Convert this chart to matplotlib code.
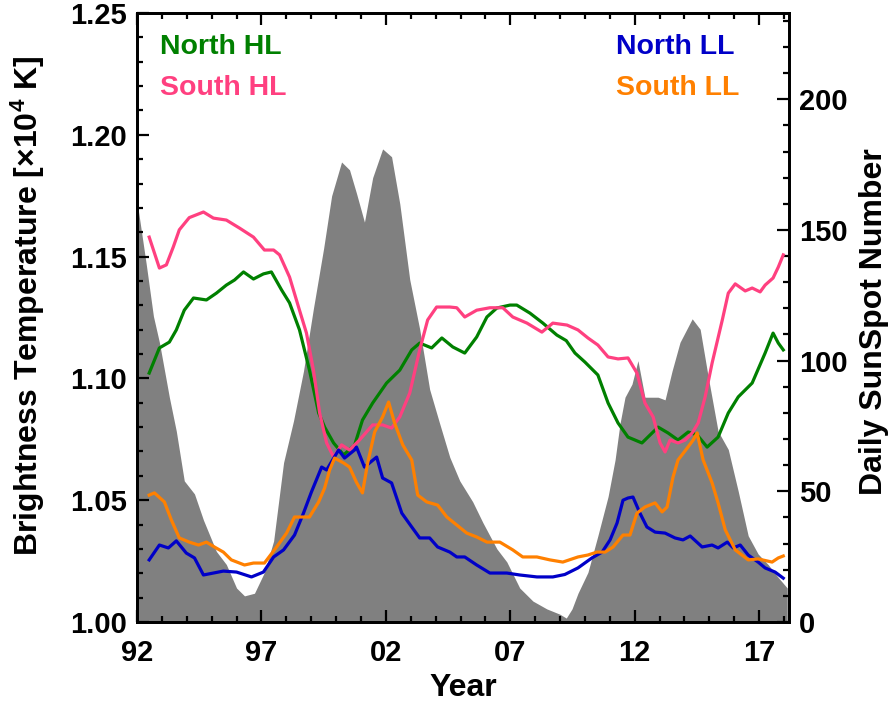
import matplotlib
matplotlib.use("Agg")
import matplotlib.pyplot as plt
from matplotlib.ticker import MultipleLocator, FixedLocator, FixedFormatter

plt.rcParams['font.family'] = ['Liberation Sans', 'DejaVu Sans']
plt.rcParams['font.weight'] = 'bold'
plt.rcParams['mathtext.fontset'] = 'custom'
plt.rcParams['mathtext.rm'] = 'Liberation Sans:bold'
plt.rcParams['mathtext.default'] = 'rm'

# ---------------- data ----------------
ssn_year = [1992.0, 1992.37, 1992.66, 1992.90, 1993.30, 1993.58, 1993.90, 1994.31, 1994.67,
            1995.19, 1995.59, 1996.00, 1996.32, 1996.72, 1997.12, 1997.49, 1997.89, 1998.29,
            1998.69, 1999.09, 1999.50, 1999.82, 2000.22, 2000.54, 2000.82, 2001.14, 2001.47,
            2001.87, 2002.23, 2002.56, 2002.96, 2003.36, 2003.76, 2004.16, 2004.57, 2004.97,
            2005.49, 2005.90, 2006.46, 2006.86, 2007.38, 2007.91, 2008.47, 2008.99, 2009.25,
            2009.48, 2009.72, 2010.12, 2010.52, 2010.93, 2011.21, 2011.41, 2011.61, 2011.89,
            2012.13, 2012.41, 2012.70, 2012.94, 2013.22, 2013.50, 2013.82, 2014.31, 2014.63,
            2014.95, 2015.35, 2015.76, 2016.16, 2016.56, 2016.96, 2017.36, 2017.77, 2018.13]
ssn_value = [161, 137, 117, 107, 86, 73, 54, 49, 39,
             27, 22, 13, 10, 11, 19, 31, 61, 77,
             96, 120, 143, 163, 176, 173, 164, 153, 170,
             181, 178, 160, 131, 112, 89, 76, 63, 54,
             46, 38, 28, 23, 13, 8, 5, 3, 1.5,
             5, 11, 19, 33, 48, 62, 76, 86, 91,
             100, 86, 86, 86, 85, 96, 107, 116, 112,
             94, 73, 66, 50, 33, 26, 22, 17, 13]

shl_year = [1992.49, 1992.90, 1993.18, 1993.46, 1993.70, 1994.10, 1994.67, 1995.07, 1995.59,
            1996.12, 1996.68, 1997.12, 1997.49, 1997.73, 1998.13, 1998.53, 1998.81, 1999.09,
            1999.34, 1999.62, 1999.90, 2000.22, 2000.54, 2000.94, 2001.47, 2001.87, 2002.23,
            2002.56, 2002.96, 2003.36, 2003.68, 2004.04, 2004.57, 2004.85, 2005.17, 2005.65,
            2006.18, 2006.70, 2007.10, 2007.67, 2008.27, 2008.71, 2009.28, 2009.72, 2010.12,
            2010.52, 2010.93, 2011.33, 2011.73, 2012.09, 2012.41, 2012.74, 2013.02, 2013.22,
            2013.42, 2013.74, 2014.03, 2014.31, 2014.55, 2014.83, 2015.11, 2015.52, 2015.76,
            2016.04, 2016.44, 2016.72, 2017.04, 2017.24, 2017.56, 2017.77, 2017.97]
shl_value = [1.1580, 1.1453, 1.1466, 1.1540, 1.1610, 1.1660, 1.1683, 1.1658, 1.1650,
             1.1617, 1.1580, 1.1527, 1.1527, 1.1507, 1.1416, 1.1280, 1.1186, 1.1034,
             1.0858, 1.0735, 1.0677, 1.0727, 1.0706, 1.0747, 1.0809, 1.0809, 1.0796,
             1.0842, 1.0940, 1.1117, 1.1240, 1.1293, 1.1293, 1.1290, 1.1252, 1.1280,
             1.1290, 1.1290, 1.1252, 1.1227, 1.1190, 1.1227, 1.1219, 1.1199, 1.1166,
             1.1137, 1.1088, 1.1080, 1.1084, 1.1022, 1.0899, 1.0842, 1.0735, 1.0698,
             1.0747, 1.0735, 1.0747, 1.0776, 1.0817, 1.0924, 1.1063, 1.1240, 1.1350,
             1.1388, 1.1359, 1.1371, 1.1355, 1.1383, 1.1412, 1.1457, 1.1507]

nhl_year = [1992.49, 1992.90, 1993.30, 1993.58, 1993.90, 1994.27, 1994.79, 1995.19, 1995.59,
            1995.92, 1996.28, 1996.68, 1997.08, 1997.40, 1997.81, 1998.13, 1998.53, 1998.93,
            1999.30, 1999.54, 1999.90, 2000.30, 2000.74, 2001.06, 2001.47, 2002.03, 2002.56,
            2003.04, 2003.36, 2003.84, 2004.25, 2004.69, 2005.17, 2005.65, 2006.06, 2006.46,
            2006.99, 2007.26, 2007.79, 2008.31, 2008.87, 2009.25, 2009.60, 2010.00, 2010.52,
            2010.93, 2011.33, 2011.73, 2012.29, 2012.70, 2012.94, 2013.34, 2013.74, 2014.15,
            2014.51, 2014.91, 2015.35, 2015.76, 2016.16, 2016.72, 2017.24, 2017.56, 2017.77,
            2017.97]
nhl_value = [1.1022, 1.1125, 1.1149, 1.1199, 1.1280, 1.1330, 1.1322, 1.1350, 1.1383,
             1.1404, 1.1437, 1.1408, 1.1429, 1.1437, 1.1363, 1.1310, 1.1199, 1.1034,
             1.0858, 1.0800, 1.0735, 1.0686, 1.0725, 1.0829, 1.0899, 1.0981, 1.1034,
             1.1117, 1.1145, 1.1125, 1.1166, 1.1129, 1.1104, 1.1170, 1.1252, 1.1289,
             1.1301, 1.1301, 1.1268, 1.1227, 1.1178, 1.1155, 1.1104, 1.1067, 1.1014,
             1.0899, 1.0817, 1.0759, 1.0735, 1.0776, 1.0800, 1.0776, 1.0747, 1.0780,
             1.0768, 1.0718, 1.0759, 1.0858, 1.0924, 1.0981, 1.1104, 1.1186, 1.1145,
             1.1117]

nll_year = [1992.49, 1992.90, 1993.26, 1993.58, 1993.98, 1994.31, 1994.67, 1995.07, 1995.47,
            1996.00, 1996.60, 1997.08, 1997.49, 1997.89, 1998.33, 1998.69, 1999.01, 1999.42,
            1999.62, 2000.10, 2000.34, 2000.74, 2000.82, 2001.14, 2001.63, 2001.87, 2002.23,
            2002.64, 2003.04, 2003.36, 2003.76, 2004.08, 2004.57, 2004.85, 2005.17, 2005.65,
            2006.18, 2006.86, 2007.38, 2008.07, 2008.71, 2009.19, 2009.72, 2010.28, 2010.69,
            2011.01, 2011.29, 2011.53, 2011.73, 2011.93, 2012.21, 2012.49, 2012.82, 2013.22,
            2013.62, 2013.94, 2014.23, 2014.71, 2015.11, 2015.35, 2015.72, 2015.96, 2016.24,
            2016.56, 2016.96, 2017.24, 2017.64, 2017.97]
nll_value = [1.0255, 1.0316, 1.0304, 1.0333, 1.0283, 1.0263, 1.0193, 1.0201, 1.0209,
             1.0205, 1.0185, 1.0205, 1.0267, 1.0296, 1.0357, 1.0447, 1.0534, 1.0636,
             1.0624, 1.0706, 1.0673, 1.0706, 1.0718, 1.0636, 1.0677, 1.0591, 1.0571,
             1.0447, 1.0390, 1.0345, 1.0345, 1.0308, 1.0287, 1.0267, 1.0267, 1.0234,
             1.0201, 1.0201, 1.0193, 1.0185, 1.0185, 1.0195, 1.0222, 1.0263, 1.0287,
             1.0337, 1.0406, 1.0500, 1.0509, 1.0513, 1.0447, 1.0390, 1.0369, 1.0365,
             1.0345, 1.0337, 1.0353, 1.0308, 1.0316, 1.0304, 1.0328, 1.0304, 1.0316,
             1.0275, 1.0246, 1.0222, 1.0205, 1.0180]

sll_year = [1992.49, 1992.70, 1993.10, 1993.38, 1993.70, 1994.10, 1994.47, 1994.79, 1995.11,
            1995.47, 1995.79, 1996.32, 1996.68, 1997.12, 1997.61, 1998.01, 1998.33, 1998.93,
            1999.30, 1999.54, 1999.74, 1999.94, 2000.30, 2000.54, 2000.82, 2001.06, 2001.27,
            2001.55, 2001.87, 2002.11, 2002.35, 2002.68, 2003.04, 2003.28, 2003.64, 2004.08,
            2004.45, 2004.85, 2005.25, 2005.65, 2006.06, 2006.58, 2007.10, 2007.50, 2008.07,
            2008.59, 2009.11, 2009.72, 2010.12, 2010.48, 2010.81, 2011.13, 2011.53, 2011.81,
            2012.09, 2012.41, 2012.82, 2013.10, 2013.30, 2013.54, 2013.74, 2014.11, 2014.35,
            2014.51, 2014.75, 2015.11, 2015.35, 2015.64, 2016.04, 2016.56, 2016.96, 2017.52,
            2017.77, 2017.97]
sll_value = [1.0521, 1.0530, 1.0493, 1.0419, 1.0345, 1.0328, 1.0316, 1.0328, 1.0308,
             1.0287, 1.0255, 1.0234, 1.0242, 1.0242, 1.0308, 1.0365, 1.0431, 1.0431,
             1.0493, 1.0550, 1.0624, 1.0673, 1.0653, 1.0636, 1.0573, 1.0530, 1.0653,
             1.0780, 1.0842, 1.0903, 1.0817, 1.0727, 1.0665, 1.0521, 1.0493, 1.0480,
             1.0431, 1.0398, 1.0365, 1.0349, 1.0328, 1.0328, 1.0296, 1.0267, 1.0267,
             1.0255, 1.0246, 1.0267, 1.0275, 1.0287, 1.0287, 1.0308, 1.0357, 1.0357,
             1.0447, 1.0472, 1.0489, 1.0452, 1.0472, 1.0595, 1.0665, 1.0714, 1.0747,
             1.0776, 1.0665, 1.0571, 1.0489, 1.0378, 1.0296, 1.0255, 1.0259, 1.0246,
             1.0263, 1.0271]

xtick_pos = [1992, 1997, 2002, 2007, 2012, 2017]
xtick_lab = ['92', '97', '02', '07', '12', '17']
ytick_pos = [1.00, 1.05, 1.10, 1.15, 1.20, 1.25]
ytick_lab = ['1.00', '1.05', '1.10', '1.15', '1.20', '1.25']
y2tick_pos = [0, 50, 100, 150, 200]

series_names = ['North HL', 'South HL', 'North LL', 'South LL']
c_nhl, c_shl, c_nll, c_sll = '#008000', '#FF4080', '#0000C8', '#FF8000'

# ---------------- figure ----------------
W, H = 891, 702
fig = plt.figure(figsize=(W / 100, H / 100), dpi=100)
L, R, T, B = 137, 789, 13, 622
ax = fig.add_axes([L / W, 1 - B / H, (R - L) / W, (B - T) / H])
ax2 = ax.twinx()
ax.set_zorder(ax2.get_zorder() + 1)
ax.patch.set_visible(False)

ax2.fill_between(ssn_year, 0, ssn_value, color='#808080', linewidth=0)

lw = 2.3
ax.plot(nhl_year, nhl_value, color=c_nhl, lw=lw)
ax.plot(shl_year, shl_value, color=c_shl, lw=lw)
ax.plot(nll_year, nll_value, color=c_nll, lw=lw)
ax.plot(sll_year, sll_value, color=c_sll, lw=lw)

ax.set_xlim(1992, 2018.2)
ax.set_ylim(1.00, 1.25)
ax2.set_ylim(0, 233)

fs_tick = 21
fs_lab = 23
fs_leg = 20.5
ax.xaxis.set_major_locator(FixedLocator(xtick_pos))
ax.xaxis.set_major_formatter(FixedFormatter(xtick_lab))
ax.xaxis.set_minor_locator(MultipleLocator(1))
ax.yaxis.set_major_locator(FixedLocator(ytick_pos))
ax.yaxis.set_major_formatter(FixedFormatter(ytick_lab))
ax.yaxis.set_minor_locator(MultipleLocator(0.01))
ax2.yaxis.set_major_locator(FixedLocator(y2tick_pos))
ax2.yaxis.set_minor_locator(MultipleLocator(10))

for a in (ax, ax2):
    for s in a.spines.values():
        s.set_linewidth(2.0)
ax.tick_params(which='both', direction='in', top=True, bottom=True, left=True, right=False,
               width=1.6, labelsize=fs_tick)
ax.tick_params(which='major', length=8.5)
ax.tick_params(which='minor', length=4.3)
ax.tick_params(axis='x', which='major', pad=12)
ax.tick_params(axis='y', which='major', pad=7)
ax2.tick_params(which='both', direction='in', left=False, right=True, width=1.6, labelsize=fs_tick)
ax2.tick_params(which='major', length=8.5, pad=7)
ax2.tick_params(which='minor', length=4.3)
for lab in ax.get_xticklabels() + ax.get_yticklabels() + ax2.get_yticklabels():
    lab.set_fontweight('bold')

fig.text(463 / W, 1 - 688 / H, 'Year', ha='center', va='center', fontsize=fs_lab, fontweight='bold')
fig.text(28 / W, 1 - 306 / H, r'Brightness Temperature [$\times$10$^4$ K]', rotation=90,
         ha='center', va='center', fontsize=fs_lab, fontweight='bold')
fig.text(874 / W, 1 - 322 / H, 'Daily SunSpot Number', rotation=90,
         ha='center', va='center', fontsize=fs_lab, fontweight='bold')

ax.text(0.035, 0.944, series_names[0], color=c_nhl, transform=ax.transAxes,
        fontsize=fs_leg, fontweight='bold', va='center', ha='left')
ax.text(0.035, 0.877, series_names[1], color=c_shl, transform=ax.transAxes,
        fontsize=fs_leg, fontweight='bold', va='center', ha='left')
ax.text(0.735, 0.944, series_names[2], color=c_nll, transform=ax.transAxes,
        fontsize=fs_leg, fontweight='bold', va='center', ha='left')
ax.text(0.735, 0.877, series_names[3], color=c_sll, transform=ax.transAxes,
        fontsize=fs_leg, fontweight='bold', va='center', ha='left')

fig.savefig('out.png', dpi=100)
